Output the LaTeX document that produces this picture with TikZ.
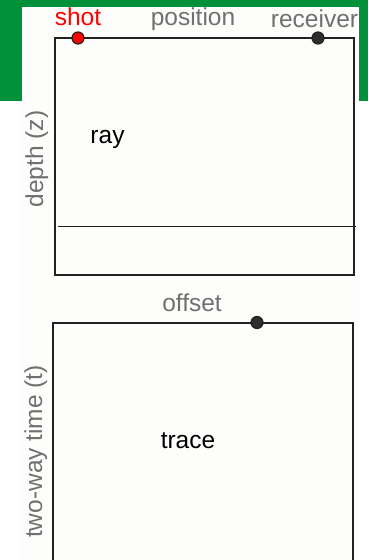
\documentclass[tikz,border=0pt]{standalone}
\usepackage{fontspec}
\setmainfont{Liberation Sans}
\definecolor{framegreen}{RGB}{0,145,58}
\definecolor{panel}{RGB}{253,253,251}
\definecolor{labelgray}{RGB}{112,112,112}
\definecolor{shotred}{RGB}{255,0,0}
\definecolor{boxline}{RGB}{34,34,34}
\definecolor{dotgray}{RGB}{45,45,45}
\begin{document}
\begin{tikzpicture}[x=1pt,y=-1pt,
  lbl/.style={inner sep=0pt,anchor=base,font=\fontsize{24.5}{29}\selectfont},
  graylbl/.style={lbl,text=labelgray},
  panelbox/.style={draw=boxline,line width=1.5pt,inner sep=0pt,minimum width=#1},
  dot/.style={circle,draw=boxline,line width=1.2pt,inner sep=0pt,minimum size=12pt}
]
\clip (0,0) rectangle (368,560);
\fill[white] (0,0) rectangle (368,560);
\fill[framegreen] (0,0) rectangle (368,101);
\fill[panel] (22,7) rectangle (359,560);

% boxes
\node[panelbox=299pt,minimum height=237pt] (depthbox) at (204.5,156.5) {};
\node[panelbox=300pt,minimum height=260pt] (timebox) at (203,453) {};

% reflector line
\coordinate (refl-l) at (58,226);
\coordinate (refl-r) at (356,226);
\draw[boxline,line width=0.8pt] (refl-l) -- (refl-r);

% labels
\node[lbl,text=shotred] (shotlbl) at (78,25.5) {shot};
\node[graylbl] (poslbl) at (193,25) {position};
\node[graylbl] (reclbl) at (314.5,27) {receiver};
\node[graylbl] (offlbl) at (192,311) {offset};
\node[graylbl,rotate=90] (depthlbl) at (43,159) {depth (z)};
\node[graylbl,rotate=90] (timelbl) at (42,451.5) {two-way time (t)};
\node[lbl] (raylbl) at (107.5,143) {ray};
\node[lbl] (tracelbl) at (188,448) {trace};

% dots
\node[dot,fill=shotred] (shot) at (78,38) {};
\node[dot,fill=dotgray] (receiver) at (318,38) {};
\node[dot,fill=dotgray] (offdot) at (257,322.5) {};
\end{tikzpicture}
\end{document}
